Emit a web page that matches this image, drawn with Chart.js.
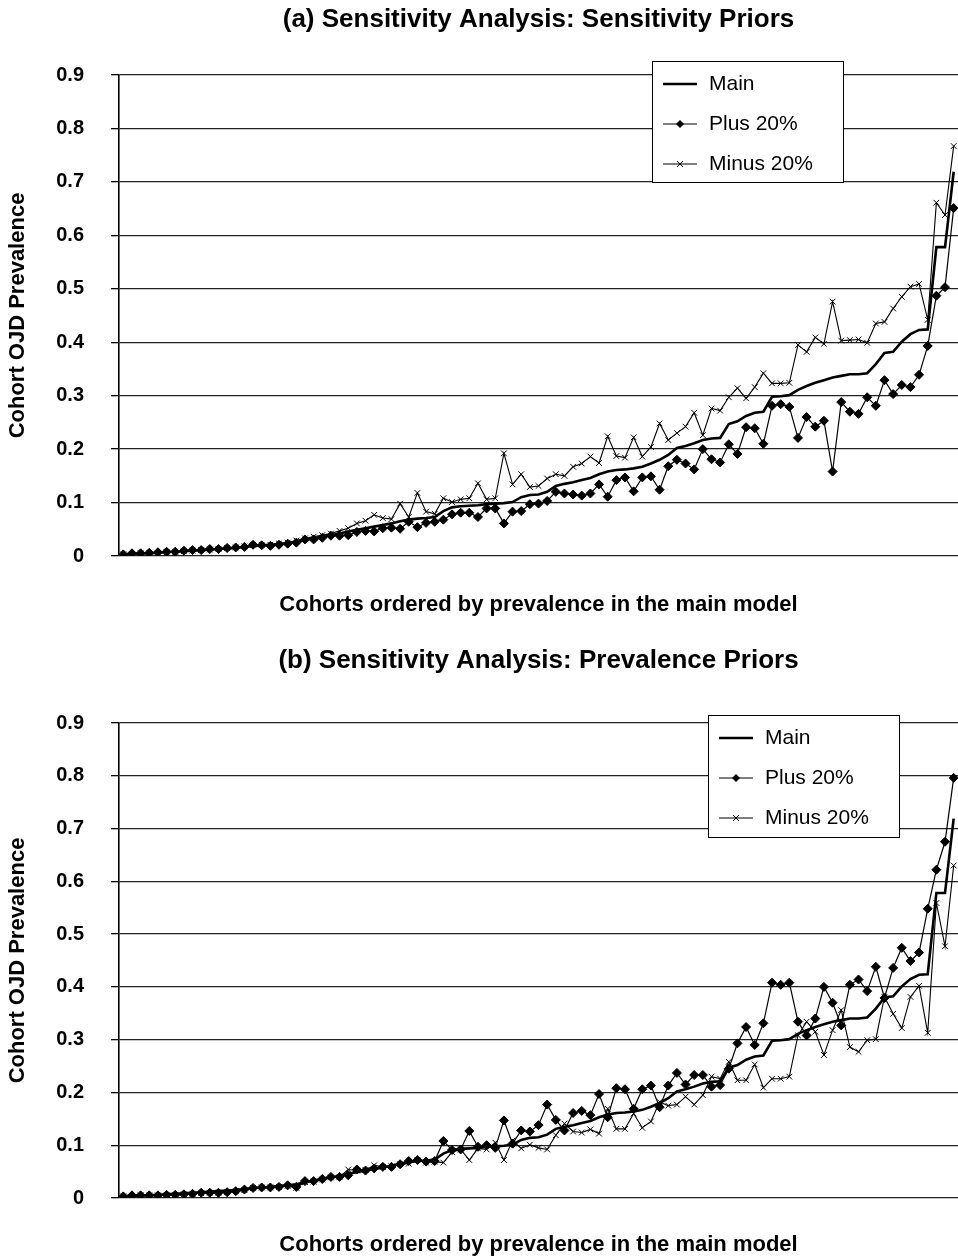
<!DOCTYPE html>
<html>
<head>
<meta charset="utf-8">
<title>Sensitivity Analysis</title>
<script src="https://cdn.jsdelivr.net/npm/chart.js@4.4.1/dist/chart.umd.min.js"></script>
<style>
  body { margin: 0; background: #fff; overflow: hidden; }
  canvas { display: block; }
</style>
</head>
<body>
<canvas id="graficoA" width="958" height="630"></canvas>
<canvas id="graficoB" width="958" height="628"></canvas>
<script>
const titles = ['(a) Sensitivity Analysis: Sensitivity Priors', '(b) Sensitivity Analysis: Prevalence Priors'];
const seriesNames = ['Main', 'Plus 20%', 'Minus 20%'];
const xTitle = 'Cohorts ordered by prevalence in the main model';
const yTitle = 'Cohort OJD Prevalence';
const yTickLabels = ['0', '0.1', '0.2', '0.3', '0.4', '0.5', '0.6', '0.7', '0.8', '0.9'];

// main model, same ordering in both panels
const main = [
  0.003, 0.004, 0.005, 0.005, 0.006, 0.007, 0.008, 0.009, 0.010, 0.011, 0.012, 0.013, 0.014, 0.015, 0.017,
  0.019, 0.020, 0.021, 0.023, 0.024, 0.026, 0.030, 0.033, 0.036, 0.039, 0.042, 0.046, 0.049, 0.052, 0.055, 0.058, 0.061,
  0.065, 0.068, 0.070, 0.071, 0.073,
  0.084, 0.091, 0.093, 0.094, 0.095, 0.097, 0.098, 0.099, 0.101, 0.110, 0.114, 0.115, 0.120,
  0.131, 0.135, 0.138, 0.142, 0.146, 0.153, 0.158, 0.161, 0.162, 0.164, 0.167, 0.173, 0.180, 0.189, 0.202, 0.206, 0.211,
  0.217, 0.220, 0.221, 0.247, 0.252, 0.262, 0.268, 0.270, 0.298, 0.299, 0.301, 0.311, 0.318, 0.324, 0.329, 0.334,
  0.337, 0.340, 0.340, 0.342, 0.359, 0.380, 0.382, 0.401, 0.415, 0.423, 0.424, 0.578, 0.578, 0.719
];

// (a) sensitivity priors
const plusA = [
  0.003, 0.005, 0.005, 0.006, 0.007, 0.008, 0.008, 0.010, 0.011, 0.011, 0.013, 0.013, 0.015, 0.016, 0.017,
  0.021, 0.020, 0.019, 0.021, 0.023, 0.025, 0.031, 0.031, 0.034, 0.038, 0.038, 0.039, 0.045, 0.047, 0.046, 0.052, 0.053,
  0.051, 0.064, 0.054, 0.062, 0.064, 0.068, 0.078, 0.081, 0.081, 0.073, 0.089, 0.089, 0.061, 0.083, 0.084, 0.097,
  0.098, 0.103, 0.120, 0.117, 0.115, 0.113, 0.117, 0.134, 0.111, 0.142, 0.147, 0.121, 0.147, 0.149, 0.124, 0.168,
  0.180, 0.173, 0.162, 0.200, 0.181, 0.175, 0.209, 0.191, 0.241, 0.239, 0.210, 0.281, 0.284, 0.279, 0.221, 0.260,
  0.242, 0.253, 0.158, 0.288, 0.270, 0.266, 0.297, 0.281, 0.329, 0.303, 0.320, 0.316, 0.339, 0.393, 0.487, 0.503, 0.651
];
const minusA = [
  0.003, 0.004, 0.005, 0.006, 0.006, 0.007, 0.008, 0.009, 0.010, 0.011, 0.012, 0.013, 0.015, 0.016, 0.018,
  0.021, 0.021, 0.021, 0.023, 0.025, 0.029, 0.033, 0.036, 0.039, 0.042, 0.047, 0.052, 0.061, 0.066, 0.077, 0.071, 0.069,
  0.098, 0.073, 0.118, 0.083, 0.079, 0.108, 0.101, 0.106, 0.108, 0.136, 0.106, 0.108, 0.192, 0.134, 0.153, 0.129,
  0.131, 0.145, 0.153, 0.150, 0.167, 0.173, 0.186, 0.174, 0.224, 0.187, 0.184, 0.222, 0.186, 0.204, 0.248, 0.217,
  0.230, 0.242, 0.268, 0.226, 0.276, 0.272, 0.297, 0.314, 0.295, 0.316, 0.342, 0.323, 0.323, 0.324, 0.395, 0.382,
  0.409, 0.397, 0.476, 0.403, 0.404, 0.405, 0.399, 0.435, 0.438, 0.463, 0.485, 0.504, 0.509, 0.442, 0.661, 0.638, 0.767
];

// (b) prevalence priors
const plusB = [
  0.003, 0.005, 0.005, 0.005, 0.005, 0.006, 0.006, 0.007, 0.008, 0.010, 0.010, 0.010, 0.011, 0.013, 0.016,
  0.019, 0.020, 0.020, 0.021, 0.024, 0.021, 0.032, 0.032, 0.036, 0.040, 0.040, 0.043, 0.054, 0.052, 0.056, 0.059, 0.059,
  0.064, 0.070, 0.072, 0.069, 0.070, 0.108, 0.091, 0.092, 0.127, 0.097, 0.100, 0.095, 0.147, 0.103, 0.128, 0.126,
  0.138, 0.177, 0.148, 0.128, 0.161, 0.165, 0.157, 0.197, 0.153, 0.208, 0.206, 0.169, 0.206, 0.213, 0.172, 0.213,
  0.237, 0.215, 0.233, 0.233, 0.211, 0.214, 0.245, 0.293, 0.324, 0.290, 0.331, 0.408, 0.404, 0.408, 0.334, 0.308,
  0.340, 0.400, 0.370, 0.327, 0.404, 0.414, 0.392, 0.438, 0.379, 0.436, 0.474, 0.449, 0.465, 0.548, 0.622, 0.675, 0.796
];
const minusB = [
  0.003, 0.004, 0.005, 0.005, 0.005, 0.006, 0.006, 0.007, 0.008, 0.009, 0.010, 0.010, 0.011, 0.013, 0.015,
  0.019, 0.020, 0.020, 0.021, 0.023, 0.019, 0.030, 0.031, 0.035, 0.039, 0.040, 0.054, 0.052, 0.053, 0.062, 0.059, 0.060,
  0.064, 0.065, 0.072, 0.067, 0.069, 0.067, 0.087, 0.092, 0.072, 0.094, 0.092, 0.105, 0.072, 0.109, 0.094, 0.101,
  0.095, 0.092, 0.119, 0.141, 0.126, 0.124, 0.130, 0.122, 0.169, 0.131, 0.131, 0.160, 0.133, 0.145, 0.182, 0.175,
  0.177, 0.192, 0.177, 0.195, 0.230, 0.226, 0.258, 0.223, 0.223, 0.253, 0.209, 0.226, 0.226, 0.230, 0.308, 0.334,
  0.315, 0.271, 0.318, 0.356, 0.286, 0.277, 0.299, 0.301, 0.381, 0.349, 0.322, 0.381, 0.402, 0.313, 0.559, 0.477, 0.630
];

const cohorts = main.map((_, i) => String(i + 1));

const FONTE = '"Liberation Sans", Arial, sans-serif';

// legend drawn inside the plot, like the original
const legendaInterna = {
  id: 'legendaInterna',
  afterDraw(chart, args, opts) {
    const c = chart.ctx;
    c.save();
    c.fillStyle = '#fff';
    c.fillRect(opts.x, opts.y, opts.w, opts.h);
    c.strokeStyle = '#000';
    c.lineWidth = 1;
    c.strokeRect(opts.x + 0.5, opts.y + 0.5, opts.w, opts.h);
    c.font = '21px ' + FONTE;
    c.textBaseline = 'middle';
    chart.data.datasets.forEach((ds, i) => {
      const cy = opts.y + 23 + i * 40;
      const mx = opts.x + 28;
      c.strokeStyle = '#000';
      c.fillStyle = '#000';
      c.lineWidth = ds.borderWidth;
      c.beginPath();
      c.moveTo(opts.x + 11, cy);
      c.lineTo(opts.x + 45, cy);
      c.stroke();
      c.lineWidth = 1;
      if (ds.pointStyle === 'rectRot') {
        c.beginPath();
        c.moveTo(mx, cy - 4); c.lineTo(mx + 4, cy); c.lineTo(mx, cy + 4); c.lineTo(mx - 4, cy);
        c.closePath();
        c.fill();
      } else if (ds.pointStyle === 'crossRot') {
        c.beginPath();
        c.moveTo(mx - 3, cy - 3); c.lineTo(mx + 3, cy + 3);
        c.moveTo(mx + 3, cy - 3); c.lineTo(mx - 3, cy + 3);
        c.stroke();
      }
      c.fillText(ds.label, opts.x + 57, cy);
    });
    c.restore();
  }
};

function montarGrafico(id, titulo, plus, minus, lay) {
  let ctx = document.getElementById(id).getContext('2d');
  return new Chart(ctx, {
    type: 'line',
    data: {
      labels: cohorts,
      datasets: [
        { label: seriesNames[0], data: main, borderColor: '#000', borderWidth: 2.6, pointRadius: 0, pointStyle: false },
        { label: seriesNames[1], data: plus, borderColor: '#000', backgroundColor: '#000', borderWidth: 1.2,
          pointStyle: 'rectRot', pointRadius: 4.5, pointBorderWidth: 1 },
        { label: seriesNames[2], data: minus, borderColor: '#000', backgroundColor: '#000', borderWidth: 1.1,
          pointStyle: 'crossRot', pointRadius: 4, pointBorderWidth: 1 }
      ]
    },
    options: {
      responsive: false,
      animation: false,
      devicePixelRatio: 1,
      layout: { padding: 0, autoPadding: false },
      plugins: {
        legend: { display: false },
        tooltip: { enabled: false },
        title: {
          display: true, text: titulo, fullSize: false, color: '#000',
          font: { family: FONTE, size: 26, weight: 'bold' },
          padding: { top: lay.titleTop, bottom: lay.titleBottom }
        },
        legendaInterna: lay.legend
      },
      scales: {
        x: {
          offset: true,
          grid: { display: false, drawTicks: false },
          border: { display: false },
          ticks: { display: false },
          title: {
            display: true, text: xTitle, color: '#000',
            font: { family: FONTE, size: 22, weight: 'bold' },
            padding: { top: 0, bottom: lay.xTitleBottom }
          },
          afterFit: s => { s.height = lay.xHeight; }
        },
        y: {
          min: 0, max: 0.9,
          ticks: {
            stepSize: 0.1, padding: 27, color: '#000',
            font: { family: FONTE, size: 20, weight: 'bold' },
            callback: (v, i) => yTickLabels[i]
          },
          grid: { color: '#222', lineWidth: 1.3, tickLength: 8, tickColor: '#000', tickWidth: 1.3 },
          border: { display: true, color: '#000', width: 1.6 },
          title: {
            display: true, text: yTitle, color: '#000',
            font: { family: FONTE, size: 22, weight: 'bold' },
            padding: { top: 4.8, bottom: 0 }
          },
          afterFit: s => { s.width = 119; }
        }
      }
    },
    plugins: [legendaInterna]
  });
}

montarGrafico('graficoA', titles[0], plusA, minusA, {
  titleTop: 4.4, titleBottom: 39.4, xHeight: 74, xTitleBottom: 12,
  legend: { x: 652, y: 61, w: 191, h: 121 }
});
montarGrafico('graficoB', titles[1], plusB, minusB, {
  titleTop: 15.4, titleBottom: 46.4, xHeight: 60, xTitleBottom: 0,
  legend: { x: 708, y: 85, w: 191, h: 122 }
});
</script>
</body>
</html>
